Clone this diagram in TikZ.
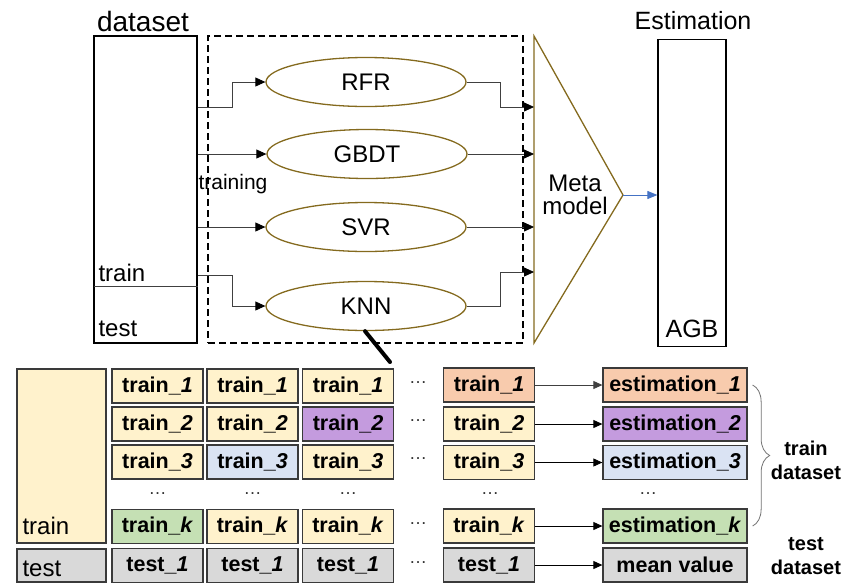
\documentclass[tikz,border=0pt]{standalone}
\usepackage{fontspec}
\setmainfont{Liberation Sans}
\usetikzlibrary{arrows.meta,decorations.pathreplacing,shapes.geometric}

\definecolor{gold}{HTML}{846A1E}
\definecolor{cellline}{HTML}{3A3A3A}
\definecolor{cyellow}{HTML}{FFF2CC}
\definecolor{corange}{HTML}{F8CBAD}
\definecolor{cpurple}{HTML}{C49BDE}
\definecolor{cblue}{HTML}{DAE3F3}
\definecolor{cgreen}{HTML}{C5E0B4}
\definecolor{cgray}{HTML}{D9D9D9}
\definecolor{wire}{HTML}{404040}
\definecolor{bluearrow}{HTML}{4472C4}

\tikzset{
  fs/.style={font=\fontsize{#1}{#1}\selectfont},
  box/.style={draw=black, line width=1.2pt, inner sep=0pt},
  model/.style={ellipse, draw=gold, line width=1.3pt, minimum width=200pt,
    minimum height=49pt, inner sep=0pt, fs=24},
  arr/.style={draw=wire, line width=0.8pt, -{Triangle[length=10pt,width=9pt,color=black]}},
  cell/.style={draw=cellline, line width=1.3pt, minimum width=91pt, minimum height=34pt,
    inner sep=0pt, font=\fontsize{21.5}{21.5}\selectfont\bfseries},
  estcell/.style={cell, minimum width=144pt},
  dots/.style={font=\fontsize{18}{18}\selectfont, text=black!80},
  sarr/.style={draw=black, line width=0.8pt, -{Triangle[length=9pt,width=8pt]}},
}

\begin{document}
\begin{tikzpicture}[x=1pt, y=-1pt]
\useasboundingbox (0,0) rectangle (846,582);

% ---------- upper part: stacking ensemble ----------
\node[fs=28] (dstitle) at (143,21) {dataset};
\node[box, minimum width=103pt, minimum height=307pt] (ds) at (145.5,189.5) {};
\coordinate (divl) at (94,286);
\draw[line width=0.6pt, draw=wire] (divl) -- (ds.east |- divl);
\node[fs=24, anchor=west] (dstrain) at (95,273) {train};
\node[fs=24, anchor=west] (dstest) at (95,329) {test};

\node[draw=black, dashed, line width=1.2pt, dash pattern=on 7pt off 4pt,
  minimum width=315pt, minimum height=307pt, inner sep=0pt] (frame) at (365.5,189.5) {};

\node[model] (rfr)  at (366,82)  {RFR};
\node[model] (gbdt) at (367,154) {GBDT};
\node[model] (svr)  at (366,227) {SVR};
\node[model] (knn)  at (366,306) {KNN};

\node[fs=21] (trainlbl) at (233,184) {training};

% meta model triangle
\coordinate (ttop) at (534,36);
\coordinate (tbot) at (534,343);
\coordinate (tapex) at (623,195);
\draw[draw=gold, line width=1.3pt, line join=miter] (ttop) -- (tapex) -- (tbot) -- cycle;
\node[fs=24, align=center] (meta) at (575,195) {Meta\\[-1pt]model};

\coordinate (in1) at (534,107);
\coordinate (in2) at (534,154);
\coordinate (in3) at (534,227);
\coordinate (in4) at (534,272);

% dataset to base models
\draw[arr] (ds.east |- 0,107) -- ++(35,0) |- (rfr.west);
\draw[arr] (ds.east |- gbdt) -- (gbdt.west);
\draw[arr] (ds.east |- svr) -- (svr.west);
\draw[arr] (ds.east |- 0,275) -- ++(35,0) |- (knn.west);

% base models to meta model
\draw[arr] (rfr.east) -- ++(34,0) |- (in1);
\draw[arr] (gbdt.east) -- (in2);
\draw[arr] (svr.east) -- (in3);
\draw[arr] (knn.east) -- ++(34,0) |- (in4);

% estimation
\node[fs=25] (esttitle) at (693,21) {Estimation};
\node[box, minimum width=68pt, minimum height=307pt] (agbbox) at (692,193) {};
\node[fs=25] (agb) at (692,329) {AGB};
\draw[draw=bluearrow, line width=0.9pt, -{Triangle[length=10pt,width=8pt]}] (tapex) -- (agbbox.west |- tapex);

% zoom link from KNN to the fold table
\coordinate (linkend) at (390,362);
\draw[line width=4pt, line cap=round] ([xshift=-1pt]knn.south) -- (linkend);

% ---------- lower part: k-fold scheme ----------
\node[draw=cellline, fill=cyellow, line width=1.3pt, minimum width=89pt, minimum height=174pt,
  inner sep=0pt] (bigtrain) at (61.5,456) {};
\node[fs=24, anchor=west] (bigtrainlbl) at (19,526) {train};
\node[draw=cellline, fill=cgray, line width=1.3pt, minimum width=89pt, minimum height=33pt,
  inner sep=0pt] (bigtest) at (61.5,565.5) {};
\node[fs=24, anchor=west] (bigtestlbl) at (19,569) {test};

% column 1
\node[cell, fill=cyellow] (a1) at (157.5,386) {train\_\textit{1}};
\node[cell, fill=cyellow] (a2) at (157.5,424) {train\_\textit{2}};
\node[cell, fill=cyellow] (a3) at (157.5,462) {train\_\textit{3}};
\node[dots] (ad) at (157.5,494) {\dots};
\node[cell, fill=cgreen]  (ak) at (157.5,526.5) {train\_\textit{k}};
\node[cell, fill=cgray]   (at) at (157.5,565.5) {test\_\textit{1}};
% column 2
\node[cell, fill=cyellow] (b1) at (252.5,386) {train\_\textit{1}};
\node[cell, fill=cyellow] (b2) at (252.5,424) {train\_\textit{2}};
\node[cell, fill=cblue]   (b3) at (252.5,462) {train\_\textit{3}};
\node[dots] (bd) at (252.5,494) {\dots};
\node[cell, fill=cyellow] (bk) at (252.5,526.5) {train\_\textit{k}};
\node[cell, fill=cgray]   (bt) at (252.5,565.5) {test\_\textit{1}};
% column 3
\node[cell, fill=cyellow] (c1) at (348,386) {train\_\textit{1}};
\node[cell, fill=cpurple] (c2) at (348,424) {train\_\textit{2}};
\node[cell, fill=cyellow] (c3) at (348,462) {train\_\textit{3}};
\node[dots] (cd) at (348,494) {\dots};
\node[cell, fill=cyellow] (ck) at (348,526.5) {train\_\textit{k}};
\node[cell, fill=cgray]   (ct) at (348,565.5) {test\_\textit{1}};
% gap dots
\node[dots] (g1) at (418,383) {\dots};
\node[dots] (g2) at (418,421) {\dots};
\node[dots] (g3) at (418,459) {\dots};
\node[dots] (gk) at (418,524) {\dots};
\node[dots] (gt) at (418,563) {\dots};
% column k
\node[cell, fill=corange] (d1) at (489,385) {train\_\textit{1}};
\node[cell, fill=cyellow] (d2) at (489,424) {train\_\textit{2}};
\node[cell, fill=cyellow] (d3) at (489,462.5) {train\_\textit{3}};
\node[dots] (dd) at (490,494) {\dots};
\node[cell, fill=cyellow] (dk) at (489,526) {train\_\textit{k}};
\node[cell, fill=cgray]   (dt) at (489,565) {test\_\textit{1}};
% estimations
\node[estcell, fill=corange] (e1) at (675,385) {estimation\_\textit{1}};
\node[estcell, fill=cpurple] (e2) at (675,424) {estimation\_\textit{2}};
\node[estcell, fill=cblue]   (e3) at (675,462.5) {estimation\_\textit{3}};
\node[dots] (ed) at (648,494) {\dots};
\node[estcell, fill=cgreen]  (ek) at (675,526) {estimation\_\textit{k}};
\node[estcell, fill=cgray]   (et) at (675,565) {mean value};

\draw[sarr, draw=wire] (d1) -- (e1);
\draw[sarr] (d2) -- (e2);
\draw[sarr] (d3) -- (e3);
\draw[sarr] (dk) -- (ek);
\draw[sarr] (dt) -- (et);

% brace over the train estimations
\draw[draw=black!55, line width=0.8pt, decorate, decoration={brace, amplitude=17pt}]
  ([xshift=5pt]e1.east) -- ([xshift=5pt]ek.east);
\node[font=\fontsize{20}{24}\selectfont\bfseries, align=center] (trainds) at (806,460) {train\\dataset};
\node[font=\fontsize{20}{24}\selectfont\bfseries, align=center] (testds) at (806,556) {test\\dataset};
\end{tikzpicture}
\end{document}
